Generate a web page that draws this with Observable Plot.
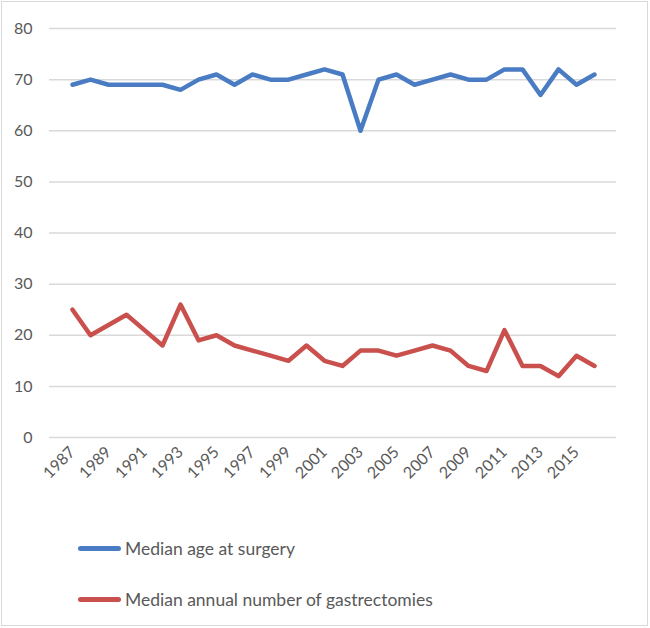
<!DOCTYPE html>
<html>
<head>
<meta charset="utf-8">
<script src="https://cdn.jsdelivr.net/npm/d3@7"></script>
<script src="https://cdn.jsdelivr.net/npm/@observablehq/plot@0.6"></script>
<style>
  html, body { margin: 0; padding: 0; background: #fff; }
  #frame { position: absolute; left: 1px; top: 1px; width: 647px; height: 625px; border: 1px solid #d9d9d9; box-sizing: border-box; }
  #chart { position: absolute; left: 0; top: 0; }
  .leg { position: absolute; left: 78px; font-family: Lato, "Open Sans", sans-serif; font-size: 17.5px; color: #595959; display: flex; align-items: center; white-space: nowrap; }
  .leg .sw { width: 43px; height: 5px; margin-right: 4px; border-radius: 2.5px; }
</style>
</head>
<body>
<div id="frame"></div>
<div id="chart"></div>
<script>
const years = [1987,1988,1989,1990,1991,1992,1993,1994,1995,1996,1997,1998,1999,2000,2001,2002,2003,2004,2005,2006,2007,2008,2009,2010,2011,2012,2013,2014,2015,2016];
const ageValues = [69,70,69,69,69,69,68,70,71,69,71,70,70,71,72,71,60,70,71,69,70,71,70,70,72,72,67,72,69,71];
const countValues = [25,20,22,24,21,18,26,19,20,18,17,16,15,18,15,14,17,17,16,17,18,17,14,13,21,14,14,12,16,14];
const seriesNames = ["Median age at surgery", "Median annual number of gastrectomies"];
const seriesColors = ["#4A7CC4", "#C9504C"];
const yTicks = [0,10,20,30,40,50,60,70,80];
const xTickLabels = [1987,1989,1991,1993,1995,1997,1999,2001,2003,2005,2007,2009,2011,2013,2015];

const data = [];
years.forEach((yr, i) => {
  data.push({year: yr, value: ageValues[i], series: seriesNames[0]});
  data.push({year: yr, value: countValues[i], series: seriesNames[1]});
});

const plot = Plot.plot({
  width: 650,
  height: 500,
  marginLeft: 49,
  marginRight: 34,
  marginTop: 28,
  marginBottom: 63,
  style: {fontFamily: "Lato, 'Open Sans', sans-serif", fontSize: "16px", color: "#595959", background: "transparent"},
  x: {type: "point", domain: years, padding: 0.5, label: null},
  y: {domain: [0, 80], label: null},
  color: {domain: seriesNames, range: seriesColors},
  marks: [
    Plot.ruleY(yTicks, {stroke: "#d9d9d9", strokeWidth: 1.5}),
    Plot.axisY({ticks: yTicks, tickSize: 0, tickPadding: 17, fontSize: 16, fill: "#595959", label: null}),
    Plot.axisX({ticks: xTickLabels, tickSize: 0, tickPadding: 12, tickRotate: -45, tickFormat: d => String(d), fontSize: 16, fill: "#595959", label: null}),
    Plot.lineY(data, {x: "year", y: "value", z: "series", stroke: "series", strokeWidth: 4.5, strokeLinejoin: "round", strokeLinecap: "round"})
  ]
});
document.getElementById("chart").appendChild(plot);

const legY = [548, 599];
seriesNames.forEach((name, i) => {
  const d = document.createElement("div");
  d.className = "leg";
  d.style.top = (legY[i] - 11) + "px";
  d.style.height = "22px";
  const sw = document.createElement("span");
  sw.className = "sw";
  sw.style.background = seriesColors[i];
  const t = document.createElement("span");
  t.textContent = name;
  d.appendChild(sw); d.appendChild(t);
  document.body.appendChild(d);
});
</script>
</body>
</html>
